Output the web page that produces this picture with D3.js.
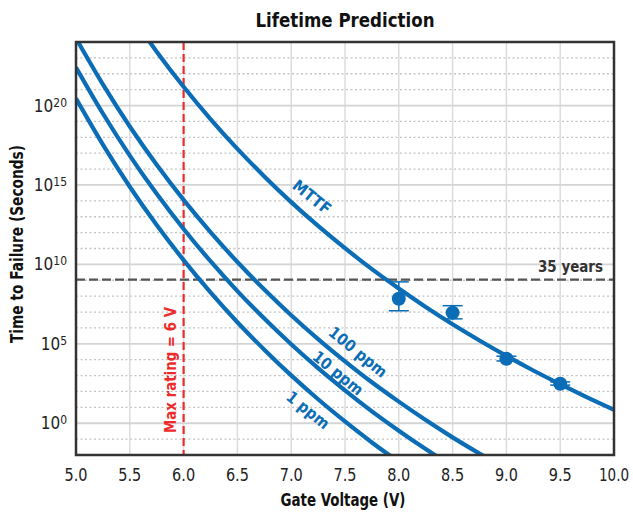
<!DOCTYPE html>
<html><head><meta charset="utf-8">
<script src="https://cdn.jsdelivr.net/npm/d3@7/dist/d3.min.js"></script>
<style>
body{margin:0;background:#fff;}
text{font-family:"DejaVu Sans Condensed","Liberation Sans Narrow",sans-serif;}
</style></head><body>
<svg id="chart" width="633" height="514"></svg>
<script>
// ---- data (log10 of time to failure, seconds) ----
const voltages = [5.0,5.25,5.5,5.75,6.0,6.25,6.5,6.75,7.0,7.25,7.5,7.75,8.0,8.25,8.5,8.75,9.0,9.25,9.5,9.75,10.0];
const mttfLog  = [28.2,25.8,25.80,23.39,21.18,19.15,17.27,15.54,13.92,12.42,11.02,9.70,8.48,7.32,6.23,5.21,4.24,3.32,2.46,1.63,0.85];
const ppm100Log = [24.23,21.33,18.68,16.27,14.06,12.03,10.15,8.42,6.80,5.30,3.90,2.58,1.36,0.20,-0.89,-1.91,-2.88];
const ppm10Log  = [22.40,19.50,16.85,14.44,12.23,10.20,8.32,6.59,4.97,3.47,2.07,0.75,-0.47,-1.63,-2.72];
const ppm1Log   = [20.44,17.54,14.89,12.48,10.27,8.24,6.36,4.63,3.01,1.51,0.11,-1.21,-2.43];
const measV     = [8.0,8.5,9.0,9.5];
const measLog   = [7.84,6.96,4.06,2.49];
const measLo    = [7.08,6.57,3.92,2.40];
const measHi    = [8.90,7.40,4.22,2.60];
const xTicks = [5.0,5.5,6.0,6.5,7.0,7.5,8.0,8.5,9.0,9.5,10.0];
const yMajorExp = [0,5,10,15,20];
const yMinorExp = d3.range(-2,25);
const yearsLog = 9.04; // 35 years
const maxRatingV = 6.0;

const blue = "#0b6db6";
const svg = d3.select("#chart");
const L=76,R=614,T=42,B=455;
const x = d3.scaleLinear().domain([5,10]).range([L,R]);
const y = d3.scaleLog().domain([1e-2,1e24]).range([B,T]);
const P = e => Math.pow(10,e);

svg.append("defs").append("clipPath").attr("id","clip")
  .append("rect").attr("x",L).attr("y",T).attr("width",R-L).attr("height",B-T);

const g = svg.append("g");
g.selectAll(".minor").data(yMinorExp.filter(e=>!yMajorExp.includes(e)&&e>-2&&e<24)).enter().append("line")
  .attr("x1",L).attr("x2",R).attr("y1",d=>y(P(d))).attr("y2",d=>y(P(d)))
  .attr("stroke","#c4c4c4").attr("stroke-width",1.3).attr("stroke-dasharray","2,2.5");
g.selectAll(".vg").data(xTicks.slice(1,-1)).enter().append("line")
  .attr("x1",d=>x(d)).attr("x2",d=>x(d)).attr("y1",T).attr("y2",B)
  .attr("stroke","#dcdcdc").attr("stroke-width",1.5);
g.selectAll(".major").data(yMajorExp).enter().append("line")
  .attr("x1",L).attr("x2",R).attr("y1",d=>y(P(d))).attr("y2",d=>y(P(d)))
  .attr("stroke","#d4d4d4").attr("stroke-width",1.8);

const clipG = svg.append("g").attr("clip-path","url(#clip)");
clipG.append("line").attr("x1",L).attr("x2",R).attr("y1",y(P(yearsLog))).attr("y2",y(P(yearsLog)))
  .attr("stroke","#555").attr("stroke-width",2.2).attr("stroke-dasharray","9,4");
clipG.append("line").attr("x1",x(maxRatingV)).attr("x2",x(maxRatingV)).attr("y1",T).attr("y2",B)
  .attr("stroke","#ee2b2b").attr("stroke-width",2.2).attr("stroke-dasharray","8,4");

const line = d3.line().x(d=>x(d[0])).y(d=>y(P(d[1]))).curve(d3.curveMonotoneX);
const series = [mttfLog.slice(2).map((v,i)=>[voltages[i+2],v]),
  ppm100Log.map((v,i)=>[voltages[i],v]),
  ppm10Log.map((v,i)=>[voltages[i],v]),
  ppm1Log.map((v,i)=>[voltages[i],v])];
clipG.selectAll(".curve").data(series).enter().append("path")
  .attr("d",line).attr("fill","none").attr("stroke",blue).attr("stroke-width",4.2);

const pts = svg.append("g");
measV.forEach((v,i)=>{
  pts.append("line").attr("x1",x(v)).attr("x2",x(v)).attr("y1",y(P(measLo[i]))).attr("y2",y(P(measHi[i])))
    .attr("stroke",blue).attr("stroke-width",1.5);
  [measLo[i],measHi[i]].forEach(e=>pts.append("line").attr("x1",x(v)-10).attr("x2",x(v)+10)
    .attr("y1",y(P(e))).attr("y2",y(P(e))).attr("stroke",blue).attr("stroke-width",1.5));
  pts.append("circle").attr("cx",x(v)).attr("cy",y(P(measLog[i]))).attr("r",7).attr("fill",blue);
});

svg.append("rect").attr("x",L).attr("y",T).attr("width",R-L).attr("height",B-T)
  .attr("fill","none").attr("stroke","#333").attr("stroke-width",2.5);

svg.selectAll(".xt").data(xTicks).enter().append("text")
  .attr("x",d=>x(d)).attr("y",481).attr("text-anchor","middle")
  .attr("font-size",17).attr("fill","#222")
  .attr("textLength",d=>d>=10?30:23).attr("lengthAdjust","spacingAndGlyphs").text(d=>d.toFixed(1));
yMajorExp.forEach(e=>{
  const t = svg.append("text").attr("x",67).attr("y",y(P(e))+6).attr("text-anchor","end")
    .attr("font-size",17).attr("fill","#222");
  t.append("tspan").text("10");
  t.append("tspan").attr("font-size",12).attr("dy",-5).text(e);
});
svg.append("text").attr("x",345).attr("y",27).attr("text-anchor","middle")
  .attr("font-size",20).attr("font-weight","bold").attr("fill","#111")
  .attr("textLength",179).attr("lengthAdjust","spacingAndGlyphs").text("Lifetime Prediction");
svg.append("text").attr("x",343).attr("y",506).attr("text-anchor","middle")
  .attr("font-size",17).attr("font-weight","bold").attr("fill","#111")
  .attr("textLength",125).attr("lengthAdjust","spacingAndGlyphs").text("Gate Voltage (V)");
svg.append("text").attr("transform","translate(23,244) rotate(-90)").attr("text-anchor","middle")
  .attr("font-size",17).attr("font-weight","bold").attr("fill","#111")
  .attr("textLength",198).attr("lengthAdjust","spacingAndGlyphs").text("Time to Failure (Seconds)");
svg.append("text").attr("x",603).attr("y",272).attr("text-anchor","end")
  .attr("font-size",16).attr("font-weight","bold").attr("fill","#333")
  .attr("textLength",65).attr("lengthAdjust","spacingAndGlyphs").text("35 years");
svg.append("text").attr("transform","translate(176,370) rotate(-90)").attr("text-anchor","middle")
  .attr("font-size",16).attr("font-weight","bold").attr("fill","#ee2b2b")
  .attr("textLength",126).attr("lengthAdjust","spacingAndGlyphs").text("Max rating = 6 V");
const labs = [["MTTF",312,197,44],["100 ppm",358,352,70],["10 ppm",338,373,60],["1 ppm",308,410,50]];
labs.forEach(l=>svg.append("text").attr("transform",`translate(${l[1]},${l[2]}) rotate(39)`)
  .attr("text-anchor","middle").attr("dy","0.35em").attr("font-size",16).attr("font-weight","bold")
  .attr("fill",blue).attr("textLength",l[3]).attr("lengthAdjust","spacingAndGlyphs").text(l[0]));
</script></body></html>
